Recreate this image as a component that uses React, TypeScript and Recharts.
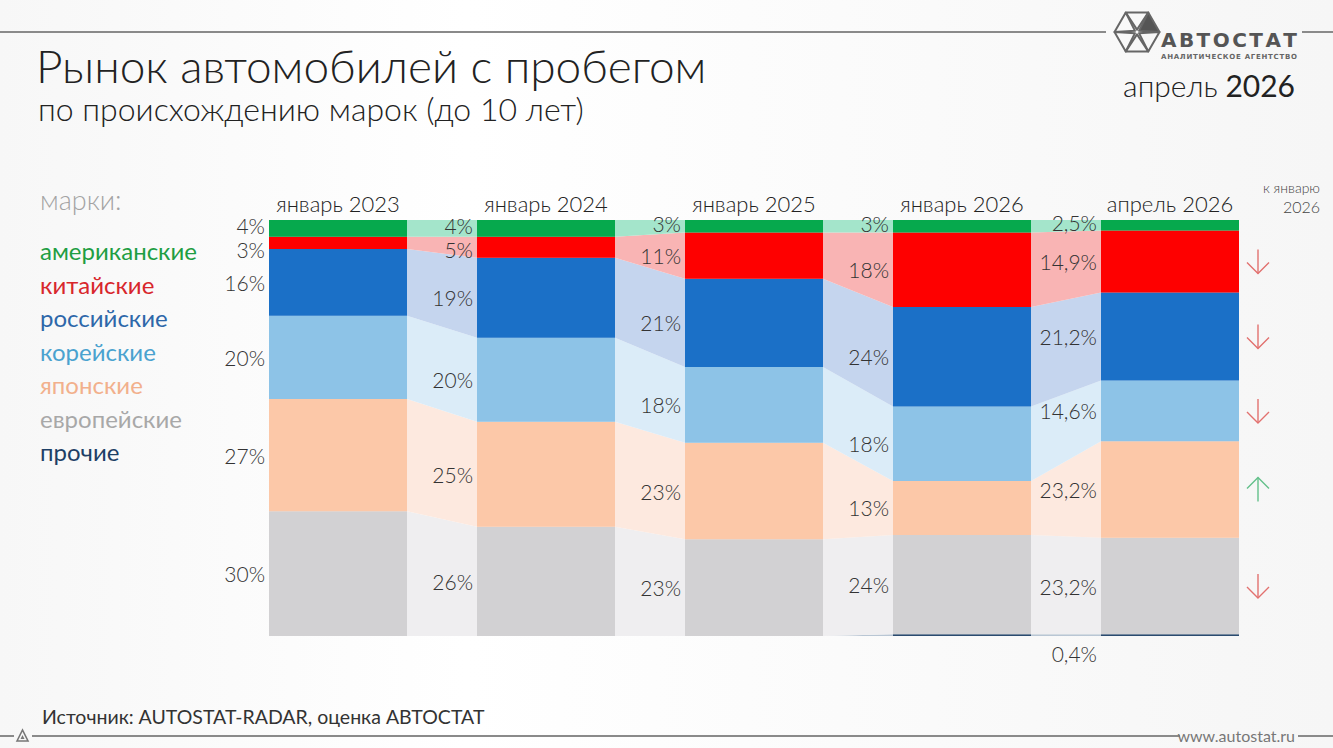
import { AreaChart, Area, BarChart, Bar, XAxis, YAxis, LabelList } from 'recharts';

const PERIODS = ['январь 2023', 'январь 2024', 'январь 2025', 'январь 2026', 'апрель 2026'];

// shares, %
const AMERICAN = [4, 4, 3, 3, 2.5];
const CHINESE = [3, 5, 11, 18, 14.9];
const RUSSIAN = [16, 19, 21, 24, 21.2];
const KOREAN = [20, 20, 18, 18, 14.6];
const JAPANESE = [27, 25, 23, 13, 23.2];
const EUROPEAN = [30, 26, 23, 24, 23.2];
const OTHER = [0, 0, 0, 0.4, 0.4];

// change of the last period vs январь 2026, legend order
const TREND = ['', 'down', 'down', 'down', 'up', 'down', ''];

const FONT = 'Lato, "Noto Sans", sans-serif';
const W = 1333;
const H = 748;
const MARGIN = { top: 180, right: 59, bottom: 112, left: 234 };
const AXIS_H = 40;
const BAR_SIZE = 138;
const PLOT_W = W - MARGIN.left - MARGIN.right;
const PITCH = PLOT_W / PERIODS.length;
const HALF = BAR_SIZE / 2 / PITCH;

// legend order (top of the stack first)
const LEGEND = [
  { key: 'american', name: 'американские', values: AMERICAN, color: '#06a94d', light: '#a4e5cb', text: '#1e9e43' },
  { key: 'chinese', name: 'китайские', values: CHINESE, color: '#fe0000', light: '#f9b4b4', text: '#d8262c' },
  { key: 'russian', name: 'российские', values: RUSSIAN, color: '#1b70c7', light: '#c5d5ee', text: '#2d67a9' },
  { key: 'korean', name: 'корейские', values: KOREAN, color: '#8dc3e7', light: '#dbecf8', text: '#4aa2cf' },
  { key: 'japanese', name: 'японские', values: JAPANESE, color: '#fcc8a8', light: '#fde9df', text: '#f2b08c' },
  { key: 'european', name: 'европейские', values: EUROPEAN, color: '#d2d1d3', light: '#efeef0', text: '#a8a8a8' },
  { key: 'other', name: 'прочие', values: OTHER, color: '#2b4b6f', light: '#b9c6d4', text: '#1e3f66' },
];
const STACK = [...LEGEND].reverse();

const barRows = PERIODS.map((period, i) => {
  const row: Record<string, number | string> = { period };
  LEGEND.forEach((s) => (row[s.key] = s.values[i]));
  return row;
});

// connector bands: each period held flat over its bar, sloping across the gaps
const areaRows = PERIODS.flatMap((_, i) =>
  [i - HALF, i + HALF].map((x) => {
    const row: Record<string, number> = { x };
    LEGEND.forEach((s) => (row[s.key] = s.values[i]));
    return row;
  })
);

const fmt = (v: number) => String(v).replace('.', ',') + '%';

function Arrow({ x, y, dir }: { x: number; y: number; dir: string }) {
  const up = dir === 'up';
  const color = up ? '#63c08a' : '#e2716f';
  const tip = up ? y - 12 : y + 12;
  const back = up ? 11 : -11;
  return (
    <g stroke={color} strokeWidth={1.4} fill="none">
      <line x1={x} y1={y - 12} x2={x} y2={y + 12} />
      <polyline points={`${x - 11},${tip + back} ${x},${tip} ${x + 11},${tip + back}`} />
    </g>
  );
}

const makeLabel = (legendIdx: number) => (props: any) => {
  const vb = typeof props.x === 'number' ? props : props.viewBox || props;
  const x = Number(vb.x);
  const y = Number(vb.y);
  const w = Number(vb.width);
  const h = Number(vb.height);
  // which period this rect belongs to, from its position on the band axis
  const index = Math.floor((x + w / 2 - MARGIN.left) / PITCH);
  const s = LEGEND[legendIdx];
  const v = s.values[index];
  const top = Math.min(y, y + h);
  const bottom = Math.max(y, y + h);
  const mid = (top + bottom) / 2;
  const last = index === PERIODS.length - 1;
  const isOther = s.key === 'other';
  let ly = mid;
  if (s.key === 'american') ly = mid - 3;
  if (s.key === 'chinese') ly = Math.max(mid, top + 13);
  if (isOther) ly = bottom + 17;
  const out = [];
  if (v > 0 && (!isOther || last)) {
    out.push(
      <text
        key="t"
        x={x - 4}
        y={ly}
        textAnchor="end"
        dominantBaseline="central"
        fontSize={21}
        fontWeight={300}
        fontFamily={FONT}
        fill="#333"
      >
        {fmt(v)}
      </text>
    );
  }
  if (last && TREND[legendIdx]) {
    out.push(<Arrow key="a" x={x + w + 19} y={mid} dir={TREND[legendIdx]} />);
  }
  return <g>{out}</g>;
};

function Logo() {
  const cx = 1137;
  const cy = 32;
  const r = 25;
  const pts = Array.from({ length: 6 }, (_, k) => {
    const a = (Math.PI / 3) * k - Math.PI / 2 - Math.PI / 6;
    return [cx + r * Math.cos(a), cy + r * Math.sin(a)];
  });
  return (
    <svg width={W} height={H} style={{ position: 'absolute', left: 0, top: 0 }}>
      <line x1={0} y1={32} x2={1106} y2={32} stroke="#8a8a8a" strokeWidth={2} />
      <line x1={1302} y1={32} x2={W} y2={32} stroke="#8a8a8a" strokeWidth={2} />
      {pts.map((p, k) => {
        const q = pts[(k + 1) % 6];
        const shrink = (pt: number[]) => [cx + (pt[0] - cx) * 0.9, cy + (pt[1] - cy) * 0.9];
        const a = shrink(p);
        const b = shrink(q);
        const mx = (a[0] + b[0]) / 2 - cx;
        const my = (a[1] + b[1]) / 2 - cy;
        const c = [cx + mx * 0.12, cy + my * 0.12];
        return (
          <polygon
            key={k}
            points={`${c[0]},${c[1]} ${a[0]},${a[1]} ${b[0]},${b[1]}`}
            fill={k === 1 ? '#555' : 'none'}
            stroke="#666"
            strokeWidth={2}
            strokeLinejoin="round"
          />
        );
      })}
      <text x={1297} y={47} textAnchor="end" fontFamily="'DejaVu Sans', sans-serif" fontWeight={700} fontSize={20} fill="#555" textLength={136}>
        АВТОСТАТ
      </text>
      <text x={1297} y={59} textAnchor="end" fontFamily="'DejaVu Sans', sans-serif" fontWeight={700} fontSize={7} fill="#666" textLength={136}>
        АНАЛИТИЧЕСКОЕ АГЕНТСТВО
      </text>
      <line x1={0} y1={736} x2={14} y2={736} stroke="#8a8a8a" strokeWidth={2} />
      <polygon points="17,741 22.5,730 28,741" fill="none" stroke="#777" strokeWidth={1.6} />
      <polygon points="20.5,739 22.5,735 24.5,739" fill="#777" />
      <line x1={32} y1={736} x2={1180} y2={736} stroke="#8a8a8a" strokeWidth={2} />
      <line x1={1298} y1={736} x2={W} y2={736} stroke="#8a8a8a" strokeWidth={2} />
      <text x={1295} y={742} textAnchor="end" fontFamily={FONT} fontSize={16} fill="#777">
        www.autostat.ru
      </text>
    </svg>
  );
}

const abs = (left: number, top: number, extra: React.CSSProperties = {}): React.CSSProperties => ({
  position: 'absolute',
  left,
  top,
  whiteSpace: 'nowrap',
  fontFamily: FONT,
  ...extra,
});

export default function App() {
  return (
    <div
      style={{
        position: 'absolute',
        left: 0,
        top: 0,
        width: W,
        height: H,
        overflow: 'hidden',
        background: 'linear-gradient(90deg, #f7f7f7 0%, #ffffff 35%, #fafafa 70%, #f6f6f6 100%)',
      }}
    >
      <div style={{ position: 'absolute', left: 0, top: 0 }}>
        <AreaChart width={W} height={H} data={areaRows} stackOffset="expand" margin={MARGIN}>
          <XAxis
            type="number"
            dataKey="x"
            domain={[-0.5, PERIODS.length - 0.5]}
            allowDataOverflow
            orientation="top"
            height={AXIS_H}
            tick={false}
            axisLine={false}
            tickLine={false}
          />
          <YAxis hide domain={[0, 1]} />
          {STACK.map((s) => (
            <Area
              key={s.key}
              type="linear"
              dataKey={s.key}
              stackId="a"
              stroke="none"
              fill={s.light}
              fillOpacity={1}
              dot={false}
              activeDot={false}
              isAnimationActive={false}
            />
          ))}
        </AreaChart>
      </div>
      <div style={{ position: 'absolute', left: 0, top: 0 }}>
        <BarChart width={W} height={H} data={barRows} stackOffset="expand" margin={MARGIN} barSize={BAR_SIZE}>
          <XAxis
            dataKey="period"
            orientation="top"
            height={AXIS_H}
            interval={0}
            axisLine={false}
            tickLine={false}
            tick={{ fontSize: 22, fontWeight: 300, fill: '#222', fontFamily: FONT }}
          />
          <YAxis hide domain={[0, 1]} />
          {STACK.map((s) => (
            <Bar key={s.key} dataKey={s.key} stackId="a" fill={s.color} isAnimationActive={false}>
              <LabelList content={makeLabel(LEGEND.indexOf(s))} />
            </Bar>
          ))}
        </BarChart>
      </div>
      <Logo />
      <div style={abs(36, 45, { fontSize: 46, fontWeight: 300, color: '#222', lineHeight: 0.9 })}>
        Рынок автомобилей с пробегом
      </div>
      <div style={abs(38, 94, { fontSize: 32, fontWeight: 300, color: '#222', lineHeight: 0.95 })}>
        по происхождению марок (до 10 лет)
      </div>
      <div style={{ ...abs(0, 70, { fontSize: 30, color: '#222', lineHeight: 1 }), left: 'auto', right: 38 }}>
        <span style={{ fontWeight: 300 }}>апрель</span> <span style={{ fontWeight: 400 }}>2026</span>
      </div>
      <div
        style={{
          ...abs(0, 180, { fontSize: 14, fontWeight: 300, color: '#444', lineHeight: 1.2, textAlign: 'right' }),
          left: 'auto',
          right: 13,
        }}
      >
        к январю
        <br />
        <span style={{ fontSize: 16 }}>2026</span>
      </div>
      <div style={abs(40, 186, { fontSize: 27, fontWeight: 300, color: '#a3a3a3', lineHeight: 1 })}>марки:</div>
      {LEGEND.map((s, i) => (
        <div key={s.key} style={abs(40, 239 + i * 33.5, { fontSize: 24, color: s.text, lineHeight: 1 })}>
          {s.name}
        </div>
      ))}
      <div style={abs(42, 707, { fontSize: 19.5, color: '#333', lineHeight: 1 })}>
        Источник: AUTOSTAT-RADAR, оценка АВТОСТАТ
      </div>
    </div>
  );
}
